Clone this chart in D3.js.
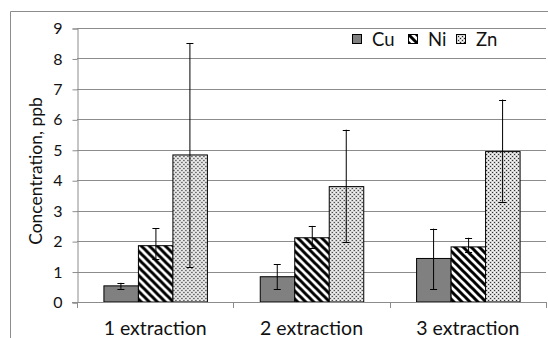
<!DOCTYPE html>
<html>
<head>
<meta charset="utf-8">
<script src="https://cdn.jsdelivr.net/npm/d3@7"></script>
<style>
  body { margin: 0; background: #fff; }
  text { font-family: Lato, "Open Sans", sans-serif; fill: #111; }
</style>
</head>
<body>
<div id="chart"></div>
<script>
const categories = ["1 extraction", "2 extraction", "3 extraction"];
const series = ["Cu", "Ni", "Zn"];
// mean values per series, in category order
const cuValues = [0.53, 0.83, 1.43];
const niValues = [1.85, 2.11, 1.81];
const znValues = [4.83, 3.79, 4.94];
// error bar extents (plus / minus)
const cuErrPlus = [0.1, 0.41, 0.98], cuErrMinus = [0.1, 0.41, 1.01];
const niErrPlus = [0.57, 0.39, 0.3], niErrMinus = [0.44, 0.33, 0.18];
const znErrPlus = [3.67, 1.87, 1.71], znErrMinus = [3.67, 1.82, 1.65];
const yTicks = [0, 1, 2, 3, 4, 5, 6, 7, 8, 9];

const W = 548, H = 338;
const mLeft = 77, mRight = 546, mTop = 28, mBottom = 302;

const rows = categories.map((c, i) => ({
  cat: c,
  vals: [
    { s: "Cu", v: cuValues[i], p: cuErrPlus[i], m: cuErrMinus[i] },
    { s: "Ni", v: niValues[i], p: niErrPlus[i], m: niErrMinus[i] },
    { s: "Zn", v: znValues[i], p: znErrPlus[i], m: znErrMinus[i] }
  ]
}));

const svg = d3.select("#chart").append("svg")
  .attr("width", W).attr("height", H);

const defs = svg.append("defs");
// diagonal stripes for Ni
const pNi = defs.append("pattern").attr("id", "pNi")
  .attr("patternUnits", "userSpaceOnUse").attr("width", 8).attr("height", 8);
pNi.append("rect").attr("width", 8).attr("height", 8).attr("fill", "#fff");
pNi.append("path").attr("d", "M-2,-2L10,10M-2,6L2,10M6,-2L10,2")
  .attr("stroke", "#000").attr("stroke-width", 3);
// dotted fill for Zn
const pZn = defs.append("pattern").attr("id", "pZn")
  .attr("patternUnits", "userSpaceOnUse").attr("width", 4).attr("height", 4);
pZn.append("rect").attr("width", 4).attr("height", 4).attr("fill", "#d6d6d6");
pZn.append("rect").attr("x", 0).attr("y", 0).attr("width", 1).attr("height", 1).attr("fill", "#222");
pZn.append("rect").attr("x", 2).attr("y", 2).attr("width", 1).attr("height", 1).attr("fill", "#222");
pZn.append("rect").attr("x", 2).attr("y", 0).attr("width", 1).attr("height", 1).attr("fill", "#fff");
pZn.append("rect").attr("x", 0).attr("y", 2).attr("width", 1).attr("height", 1).attr("fill", "#fff");

const fills = { Cu: "#808080", Ni: "url(#pNi)", Zn: "url(#pZn)" };

// outer chart border (only left & top visible in frame)
svg.append("path").attr("d", "M10.5,338V11.5H548")
  .attr("fill", "none").attr("stroke", "#8c8c8c");

const x = d3.scaleBand().domain(categories).range([mLeft, mRight])
  .paddingInner(0.338).paddingOuter(0.169);
const xs = d3.scaleBand().domain(series).range([0, x.bandwidth()]);
const y = d3.scaleLinear().domain([0, 9]).range([mBottom, mTop]);

// gridlines
svg.append("g").selectAll("line").data(yTicks.slice(1)).join("line")
  .attr("x1", mLeft).attr("x2", mRight)
  .attr("y1", d => Math.round(y(d)) + 0.5).attr("y2", d => Math.round(y(d)) + 0.5)
  .attr("stroke", "#8c8c8c");

// y axis
const ya = svg.append("g").attr("transform", `translate(${mLeft + 0.5},0.5)`)
  .call(d3.axisLeft(y).tickValues(yTicks).tickSize(5).tickPadding(10));
ya.select(".domain").attr("stroke", "#8c8c8c");
ya.selectAll(".tick line").attr("stroke", "#8c8c8c");
ya.selectAll("text").style("font-size", "16px").attr("fill", "#111");

// bars
const g = svg.append("g").selectAll("g").data(rows).join("g")
  .attr("transform", d => `translate(${x(d.cat)},0)`);
g.selectAll("rect").data(d => d.vals).join("rect")
  .attr("x", d => xs(d.s) + 0.5)
  .attr("y", d => y(d.v))
  .attr("width", xs.bandwidth())
  .attr("height", d => y(0) - y(d.v))
  .attr("fill", d => fills[d.s])
  .attr("stroke", "#000").attr("stroke-width", 1);

// error bars
const eb = g.selectAll("g.err").data(d => d.vals).join("g").attr("class", "err")
  .attr("transform", d => `translate(${Math.round(xs(d.s) + xs.bandwidth() / 2) + 0.5},0)`);
eb.append("line").attr("y1", d => y(d.v + d.p)).attr("y2", d => y(d.v - d.m))
  .attr("stroke", "#000");
eb.append("line").attr("x1", -3.5).attr("x2", 3.5)
  .attr("y1", d => Math.round(y(d.v + d.p)) + 0.5).attr("y2", d => Math.round(y(d.v + d.p)) + 0.5)
  .attr("stroke", "#000");
eb.append("line").attr("x1", -3.5).attr("x2", 3.5)
  .attr("y1", d => Math.round(y(d.v - d.m)) + 0.5).attr("y2", d => Math.round(y(d.v - d.m)) + 0.5)
  .attr("stroke", "#000");

// x axis
const xa = svg.append("g").attr("transform", `translate(0,${mBottom + 0.5})`)
  .call(d3.axisBottom(x).tickSize(0).tickPadding(19));
xa.select(".domain").attr("stroke", "#8c8c8c").attr("d", `M${mLeft - 5},0H${mRight}`);
xa.selectAll("text").style("font-size", "19.5px").attr("fill", "#111");
svg.append("g").selectAll("line").data(d3.range(categories.length + 1)).join("line")
  .attr("x1", i => Math.round(mLeft + i * x.step()) + 0.5)
  .attr("x2", i => Math.round(mLeft + i * x.step()) + 0.5)
  .attr("y1", mBottom).attr("y2", mBottom + 6)
  .attr("stroke", "#8c8c8c");

// y title
svg.append("text")
  .attr("transform", `translate(42,171) rotate(-90)`)
  .attr("text-anchor", "middle")
  .style("font-size", "17.5px")
  .text("Concentration, ppb");

// legend
const lg = svg.append("g").attr("transform", "translate(352,34)");
const legX = [0, 56, 104];
const li = lg.selectAll("g").data(series).join("g")
  .attr("transform", (d, i) => `translate(${legX[i]},0)`);
li.append("rect").attr("x", 0.5).attr("y", 0.5).attr("width", 9).attr("height", 9)
  .attr("fill", d => fills[d]).attr("stroke", "#000");
li.append("text").attr("x", 20).attr("y", 5).attr("dy", "0.36em")
  .style("font-size", "18.5px").text(d => d);
</script>
</body>
</html>
